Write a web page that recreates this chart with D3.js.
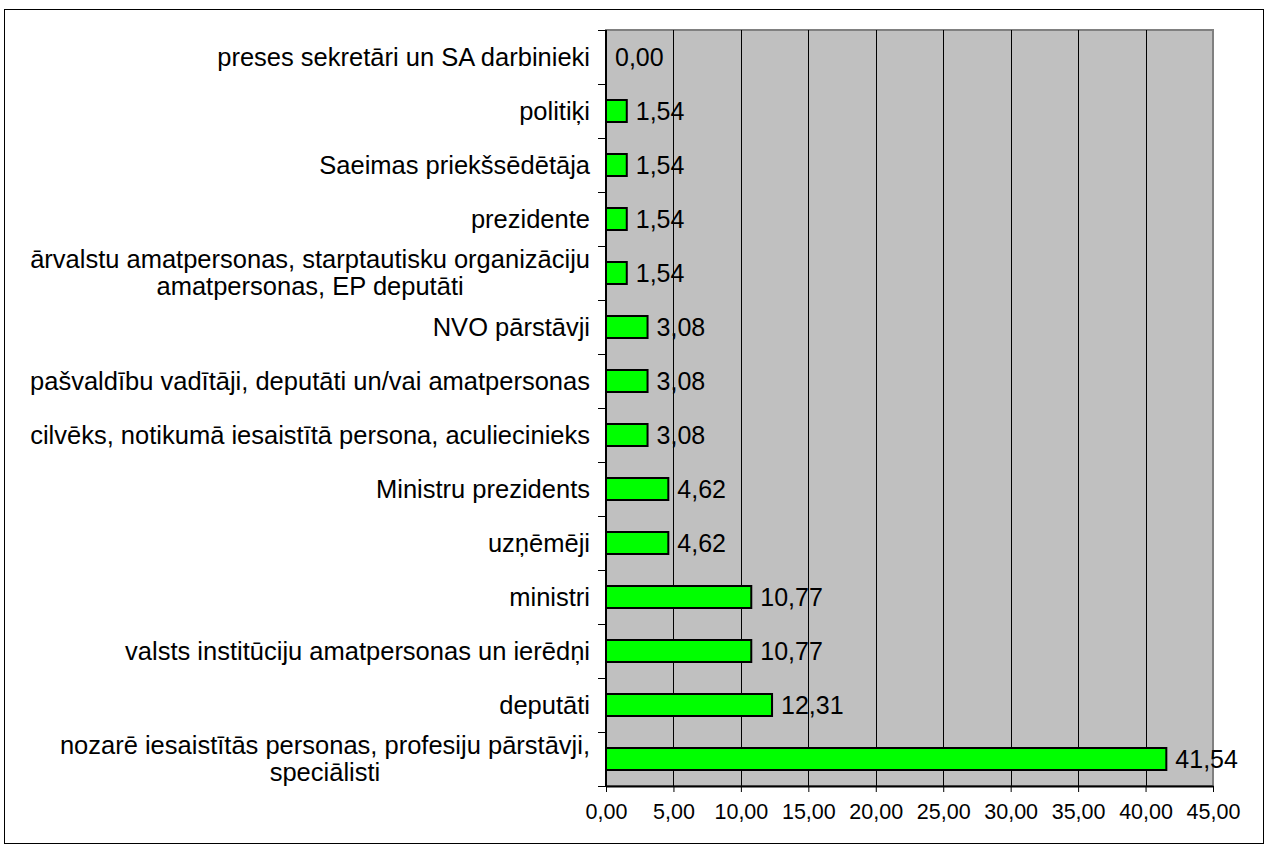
<!DOCTYPE html>
<html>
<head>
<meta charset="utf-8">
<script src="https://cdn.jsdelivr.net/npm/d3@7"></script>
<style>
    body { margin: 0; background: #fff; }
    svg { display: block; font-family: "Liberation Sans", Arial, sans-serif; }
</style>
</head>
<body>
<div id="chart"></div>
<script>
// kategorijas no augšas uz leju, "\n" = jauna rinda
const categories = [
    "preses sekretāri un SA darbinieki",
    "politiķi",
    "Saeimas priekšsēdētāja",
    "prezidente",
    "ārvalstu amatpersonas, starptautisku organizāciju\namatpersonas, EP deputāti",
    "NVO pārstāvji",
    "pašvaldību vadītāji, deputāti un/vai amatpersonas",
    "cilvēks, notikumā iesaistītā persona, aculiecinieks",
    "Ministru prezidents",
    "uzņēmēji",
    "ministri",
    "valsts institūciju amatpersonas un ierēdņi",
    "deputāti",
    "nozarē iesaistītās personas, profesiju pārstāvji,\nspeciālisti"
];
const values = [0.00, 1.54, 1.54, 1.54, 1.54, 3.08, 3.08, 3.08, 4.62, 4.62, 10.77, 10.77, 12.31, 41.54];
const xTicks = [0, 5, 10, 15, 20, 25, 30, 35, 40, 45];

const W = 1268, H = 847;
const margin = { top: 30, right: 55, bottom: 61, left: 606 };
const width = W - margin.left - margin.right,
    height = H - margin.top - margin.bottom;

const catSize = 25.5, valSize = 25, tickSize = 21.5;

const fmt = v => d3.format(".2f")(v).replace(".", ",");

const root = d3.select("#chart")
    .append("svg")
    .attr("width", W)
    .attr("height", H);

// ārējais rāmis
root.append("rect")
    .attr("x", 4.5).attr("y", 9.5)
    .attr("width", 1259).attr("height", 834)
    .attr("fill", "#fff")
    .attr("stroke", "#000")
    .attr("stroke-width", 1);

const svg = root.append("g")
    .attr("transform", "translate(" + margin.left + "," + margin.top + ")");

const x = d3.scaleLinear()
    .domain([0, 45])
    .range([0, width]);

const y = d3.scaleBand()
    .domain(categories)
    .range([0, height]);

// fons
svg.append("rect")
    .attr("width", width)
    .attr("height", height)
    .attr("fill", "#c0c0c0")
    .attr("stroke", "#808080")
    .attr("stroke-width", 2);

// režģa līnijas
svg.selectAll(".grid")
    .data(xTicks.slice(1, -1))
    .enter()
    .append("line")
    .attr("x1", d => Math.round(x(d)) + 0.5)
    .attr("x2", d => Math.round(x(d)) + 0.5)
    .attr("y1", 0)
    .attr("y2", height)
    .attr("stroke", "#000")
    .attr("stroke-width", 1);

// stabiņi
const barH = 22;
svg.selectAll(".bar")
    .data(values)
    .enter()
    .append("rect")
    .attr("x", 0)
    .attr("y", (d, i) => y(categories[i]) + y.bandwidth() / 2 - barH / 2)
    .attr("width", d => x(d))
    .attr("height", barH)
    .attr("fill", "#00ff00")
    .attr("stroke", d => d > 0 ? "#000" : "none")
    .attr("stroke-width", 2);

// vērtības
svg.selectAll(".val")
    .data(values)
    .enter()
    .append("text")
    .attr("x", d => x(d) + 9)
    .attr("y", (d, i) => y(categories[i]) + y.bandwidth() / 2)
    .attr("dy", "0.35em")
    .style("font-size", valSize + "px")
    .style("fill", "#000")
    .text(d => fmt(d));

// x ass
const xAxis = svg.append("g")
    .attr("transform", "translate(0," + height + ")")
    .call(d3.axisBottom(x).tickValues(xTicks).tickFormat(fmt).tickSize(6).tickSizeOuter(0));
xAxis.select(".domain").attr("stroke", "#000").attr("stroke-width", 2);
xAxis.selectAll("text")
    .style("font-size", tickSize + "px")
    .style("font-family", "\"Liberation Sans\", Arial, sans-serif")
    .attr("y", 18);

// y ass
svg.append("line")
    .attr("x1", 0).attr("x2", 0)
    .attr("y1", 0).attr("y2", height)
    .attr("stroke", "#000").attr("stroke-width", 2);
svg.selectAll(".ytick")
    .data(d3.range(categories.length + 1))
    .enter()
    .append("line")
    .attr("x1", -8).attr("x2", 0)
    .attr("y1", i => Math.round(i * y.bandwidth()) + 0.5)
    .attr("y2", i => Math.round(i * y.bandwidth()) + 0.5)
    .attr("stroke", "#000")
    .attr("stroke-width", 1);

// kategoriju nosaukumi
const labels = svg.selectAll(".cat")
    .data(categories)
    .enter()
    .append("text")
    .style("font-size", catSize + "px")
    .style("fill", "#000")
    .attr("y", d => y(d) + y.bandwidth() / 2);

labels.each(function (d) {
    const lines = d.split("\n");
    const t = d3.select(this);
    const lh = 27;
    lines.forEach((ln, k) => {
        t.append("tspan")
            .attr("dy", k === 0 ? (0.35 * catSize - (lines.length - 1) * lh / 2) : lh)
            .text(ln);
    });
    // platākā rinda nosaka bloka centru
    const spans = t.selectAll("tspan").nodes();
    const maxW = d3.max(spans, s => s.getComputedTextLength());
    const cx = -16 - maxW / 2;
    t.attr("text-anchor", "middle");
    t.selectAll("tspan").attr("x", cx);
});
</script>
</body>
</html>
